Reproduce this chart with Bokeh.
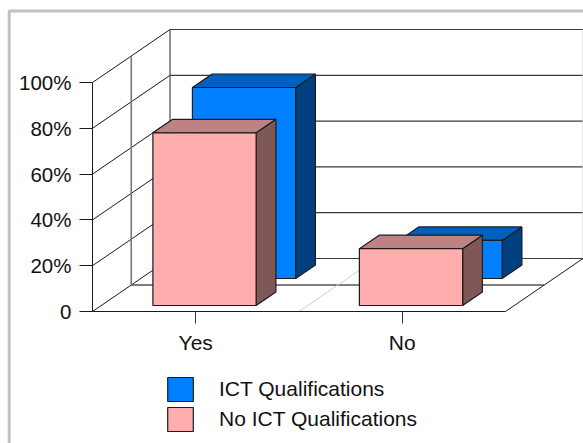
from bokeh.embed import file_html
from bokeh.models import FixedTicker, Legend, LegendItem, LinearAxis, Range1d
from bokeh.plotting import figure
from bokeh.resources import INLINE

categories = ["Yes", "No"]
ict_values = [83.4, 16.6]
no_ict_values = [75.4, 24.8]
series_names = ["ICT Qualifications", "No ICT Qualifications"]
value_ticks = [0, 20, 40, 60, 80, 100]
value_labels = ["0", "20%", "40%", "60%", "80%", "100%"]

# Pixel scale of the plot box and the oblique shift of the third dimension
PX_PER_CAT = 206.5
PX_PER_PCT = 2.29
ORIGIN_X, ORIGIN_Y = 92.0, 311.0
WIDTH, HEIGHT = 583, 443
SHIFT_X = 77.5 / PX_PER_CAT
SHIFT_Y = 53 / PX_PER_PCT

x_range = Range1d(-ORIGIN_X / PX_PER_CAT, (WIDTH - ORIGIN_X) / PX_PER_CAT)
y_range = Range1d(-(HEIGHT - ORIGIN_Y) / PX_PER_PCT, ORIGIN_Y / PX_PER_PCT)

p = figure(width=WIDTH, height=HEIGHT, x_range=x_range, y_range=y_range,
           x_axis_location=None, y_axis_location=None, min_border=0,
           output_backend="svg", toolbar_location=None, outline_line_color=None)
p.grid.visible = False
p.background_fill_color = "white"
p.border_fill_color = "white"


def project(cat, val, depth):
    return cat + depth * SHIFT_X, val + depth * SHIFT_Y


def segment(start, end, color="#1a1a1a", width=1.0):
    (x0, y0), (x1, y1) = project(*start), project(*end)
    p.line([x0, x1], [y0, y1], line_color=color, line_width=width)


# Frame around the whole chart
frame_x = (8.7 - ORIGIN_X) / PX_PER_CAT
frame_y = (ORIGIN_Y - 10.5) / PX_PER_PCT
p.line([frame_x, frame_x, x_range.end], [y_range.start, frame_y, frame_y],
       line_color="#c0c0c0", line_width=3)

n_cat = len(categories)

# Back wall and side wall grid lines
for v in value_ticks:
    segment((0, v, 0), (0, v, 1))
    segment((0, v, 1), (n_cat, v, 1), color="#3a3a3a", width=1.2)

segment((0, 0, 1), (0, 100, 1), color="#555555", width=1.3)
segment((0, 0, 0.5), (0, 100, 0.5), color="#777777", width=1.6)
segment((n_cat, 0, 1), (n_cat, 100, 1), color="#d0d0d0", width=1)

# Floor
segment((0, 0, 0.5), (n_cat, 0, 0.5), color="#555555", width=1.3)
segment((1, 0, 0), (1, 0, 1), color="#cfcfcf", width=1)
segment((n_cat, 0, 0), (n_cat, 0, 1))
segment((0, 0, 0), (n_cat, 0, 0))

BAR_LEFT, BAR_RIGHT = 0.25, 0.75


def draw_bar(index, val, d0, d1, front, top, side):
    left, right = index + BAR_LEFT, index + BAR_RIGHT
    line = dict(line_color="#1c1c1c", line_width=1.2)
    corners = lambda pts: ([project(*c)[0] for c in pts], [project(*c)[1] for c in pts])
    xs, ys = corners([(right, 0, d0), (right, 0, d1), (right, val, d1), (right, val, d0)])
    p.patch(xs, ys, fill_color=side, **line)
    xs, ys = corners([(left, val, d0), (right, val, d0), (right, val, d1), (left, val, d1)])
    p.patch(xs, ys, fill_color=top, **line)
    x0, y0 = project(left, 0, d0)
    x1, y1 = project(right, val, d0)
    return p.quad(left=x0, right=x1, bottom=y0, top=y1, fill_color=front, **line)


blue = ("#0080ff", "#0060bf", "#004080")
pink = ("#ffadad", "#bf8282", "#805757")

blue_bars, pink_bars = [], []
for i in range(n_cat):
    blue_bars.append(draw_bar(i, ict_values[i], 0.623, 0.878, *blue))
    pink_bars.append(draw_bar(i, no_ict_values[i], 0.113, 0.368, *pink))

# Value axis on the front left edge
y_axis = LinearAxis(fixed_location=0, bounds=(0, 100),
                    ticker=FixedTicker(ticks=value_ticks),
                    major_label_overrides=dict(zip(value_ticks, value_labels)))
y_axis.axis_line_color = "#1a1a1a"
y_axis.major_tick_line_color = "#1a1a1a"
y_axis.major_tick_in = 0
y_axis.major_tick_out = 13
y_axis.minor_tick_line_color = None
y_axis.major_label_standoff = 8
y_axis.major_label_text_font = "Liberation Sans"
y_axis.major_label_text_font_size = "20.5px"
y_axis.major_label_text_color = "#111111"
p.add_layout(y_axis, "left")

# Category axis along the front floor edge
cat_ticks = [i + 0.5 for i in range(n_cat)]
x_axis = LinearAxis(fixed_location=0, bounds=(0, n_cat),
                    ticker=FixedTicker(ticks=cat_ticks),
                    major_label_overrides=dict(zip(cat_ticks, categories)))
x_axis.axis_line_color = None
x_axis.major_tick_line_color = "#333333"
x_axis.major_tick_in = 0
x_axis.major_tick_out = 12
x_axis.minor_tick_line_color = None
x_axis.major_label_standoff = 7
x_axis.major_label_text_font = "Liberation Sans"
x_axis.major_label_text_font_size = "21px"
x_axis.major_label_text_color = "#111111"
p.add_layout(x_axis, "below")

legend = Legend(
    items=[LegendItem(label=series_names[0], renderers=[blue_bars[0]]),
           LegendItem(label=series_names[1], renderers=[pink_bars[0]])],
    location=(164, 9), orientation="vertical",
    glyph_width=32, glyph_height=30, label_standoff=23, spacing=0,
    padding=0, margin=0, border_line_color=None, background_fill_alpha=0,
    label_text_font="Liberation Sans", label_text_font_size="21px",
    label_text_color="#111111",
)
p.add_layout(legend, "center")

open("out.html", "w").write(file_html(p, INLINE))
